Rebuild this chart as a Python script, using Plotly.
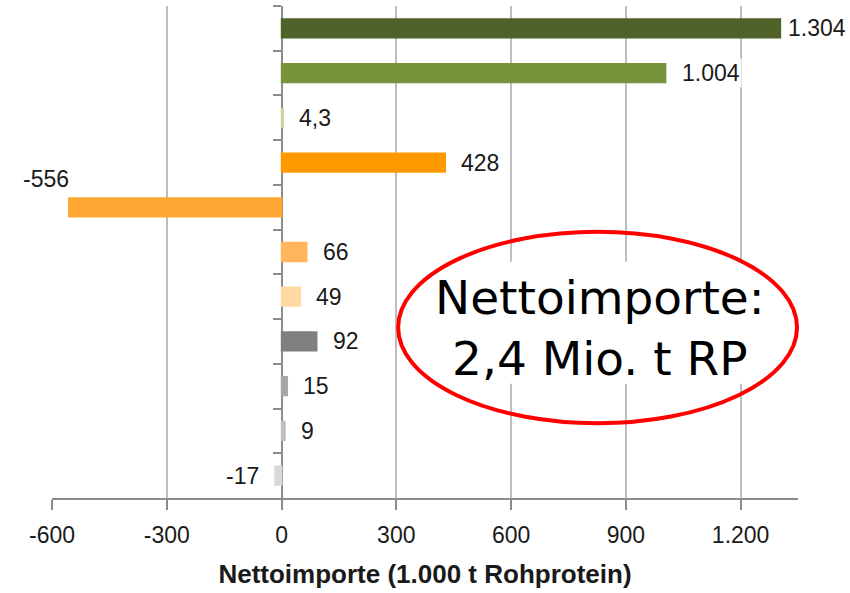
import plotly.graph_objects as go

# ---- data ----
categories = ["K1", "K2", "K3", "K4", "K5", "K6", "K7", "K8", "K9", "K10", "K11"]
values = [1304, 1004, 4.3, 428, -556, 66, 49, 92, 15, 9, -17]
bar_colors = ["#4F6228", "#77933C", "#C3D69B", "#FF9900", "#FFA833", "#FFB65C",
              "#FFD9A3", "#7F7F7F", "#A6A6A6", "#BFBFBF", "#D9D9D9"]
x_ticks = [-600, -300, 0, 300, 600, 900, 1200]
x_tick_labels = ["-600", "-300", "0", "300", "600", "900", "1.200"]
x_title = "Nettoimporte (1.000 t Rohprotein)"
callout = "Nettoimporte:<br>2,4 Mio. t RP"

X_MIN, X_MAX = -600, 1350


def de_fmt(v):
    if float(v).is_integer():
        s = f"{int(v):,}".replace(",", ".")
    else:
        s = f"{v:.1f}".replace(".", ",")
    return s


fig = go.Figure()
fig.add_trace(go.Bar(
    x=values, y=categories, orientation="h",
    marker=dict(color=bar_colors, line=dict(width=1.5, color=bar_colors)),
    hoverinfo="skip", showlegend=False,
))

label_font = dict(family="Liberation Sans, Arial, sans-serif", size=23, color="#1a1a1a")
special = {0: dict(xshift=6), 4: dict(xanchor="center", xshift=-23, yshift=28)}
for i, (c, v) in enumerate(zip(categories, values)):
    a = dict(x=v, y=c, xref="x", yref="y", text=de_fmt(v), showarrow=False,
             font=label_font, bgcolor="white", borderpad=1,
             xanchor="left" if v >= 0 else "right", yanchor="middle",
             xshift=14 if v >= 0 else -14)
    a.update(special.get(i, {}))
    fig.add_annotation(**a)

# callout: white text box, then ellipse on top, then text
fig.add_shape(type="rect", xref="paper", yref="paper",
              x0=0.504, x1=0.956, y0=0.232, y1=0.480,
              line=dict(width=0), fillcolor="white")
fig.add_shape(type="circle", xref="paper", yref="paper",
              x0=0.464, x1=0.9987, y0=0.152, y1=0.541,
              line=dict(color="#FF0000", width=4), fillcolor="rgba(0,0,0,0)")
fig.add_annotation(x=0.734, y=0.345, xref="paper", yref="paper", text=callout,
                   xanchor="center", yanchor="middle",
                   showarrow=False,
                   font=dict(family="DejaVu Sans, Verdana, sans-serif", size=47, color="#000000"),
                   align="center")

zero_pos = (0 - X_MIN) / (X_MAX - X_MIN)

fig.update_layout(
    width=850, height=593,
    margin=dict(l=52, r=52, t=6, b=95),
    paper_bgcolor="white", plot_bgcolor="white",
    bargap=0.58,
    xaxis=dict(
        range=[X_MIN, X_MAX], tickvals=x_ticks, ticktext=x_tick_labels,
        showgrid=True, gridcolor="#BDBDBD", gridwidth=2,
        zeroline=False, showline=True, linecolor="#8C8C8C", linewidth=2,
        ticks="outside", ticklen=10, tickcolor="#8C8C8C", tickwidth=2,
        ticklabelstandoff=5,
        tickfont=dict(family="Liberation Sans, Arial, sans-serif", size=23, color="#1a1a1a"),
        title=dict(text="<b>" + x_title + "</b>", standoff=18,
                   font=dict(family="Liberation Sans, Arial, sans-serif", size=26, color="#1a1a1a")),
        fixedrange=True,
    ),
    yaxis=dict(
        type="category", categoryorder="array", categoryarray=categories,
        autorange="reversed",
        anchor="free", position=zero_pos,
        showline=True, linecolor="#8C8C8C", linewidth=2, layer="below traces",
        ticks="outside", tickson="boundaries", ticklen=8, tickcolor="#8C8C8C", tickwidth=2,
        showticklabels=False, showgrid=False, zeroline=False,
        fixedrange=True,
    ),
)

fig.write_html("out.html", config={"displayModeBar": False},
               post_script="document.body.style.margin='0';document.body.style.overflow='hidden';")
